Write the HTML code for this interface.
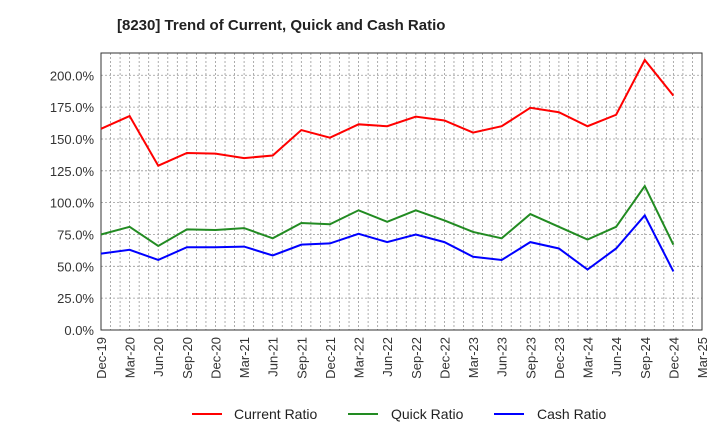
<!DOCTYPE html>
<html><head><meta charset="utf-8"><style>
body{margin:0;background:#fff;font-family:"Liberation Sans",sans-serif}
</style></head><body>
<svg id="c" width="720" height="440" xmlns="http://www.w3.org/2000/svg">
<text x="117" y="30" font-size="15" font-weight="bold" fill="#222">[8230]  Trend of Current, Quick and Cash Ratio</text>
<g id="grid"></g><g id="axes"></g><g id="series"></g>
<g>
<line x1="192" y1="414" x2="222" y2="414" stroke="#f00" stroke-width="2"/><text x="234" y="419" font-size="14" fill="#222">Current Ratio</text>
<line x1="348" y1="414" x2="378" y2="414" stroke="#228b22" stroke-width="2"/><text x="391" y="419" font-size="14" fill="#222">Quick Ratio</text>
<line x1="494" y1="414" x2="524" y2="414" stroke="#00f" stroke-width="2"/><text x="537" y="419" font-size="14" fill="#222">Cash Ratio</text>
</g>
</svg>
<script>
const xLabels=["Dec-19","Mar-20","Jun-20","Sep-20","Dec-20","Mar-21","Jun-21","Sep-21","Dec-21","Mar-22","Jun-22","Sep-22","Dec-22","Mar-23","Jun-23","Sep-23","Dec-23","Mar-24","Jun-24","Sep-24","Dec-24","Mar-25"];
const yTicks=[0,25,50,75,100,125,150,175,200];
const currentRatio=[158,168,129,139,138.5,135,137,157,151,161.5,160,167.5,164.5,155,160,174.5,171,160,169,212,184];
const quickRatio=[75,81,66,79,78.5,80,72,84,83,94,85,94,86,77,72,91,81,71,81,113,67];
const cashRatio=[60,63,55,65,65,65.5,58.5,67,68,75.5,69,75,69,57.5,55,69,64,47.5,64,90,46];
const L=101,R=702,T=53,B=330,YMAX=217.5;
const NS="http://www.w3.org/2000/svg";
const xs=i=>L+(R-L)*i/(xLabels.length-1);
const ys=v=>B-(B-T)*v/YMAX;
function mk(tag,attrs,parent){const e=document.createElementNS(NS,tag);for(const k in attrs)e.setAttribute(k,attrs[k]);parent.appendChild(e);return e;}
const g=document.getElementById('grid'),a=document.getElementById('axes'),s=document.getElementById('series');
for(let m=1;m<(xLabels.length-1)*3;m++){const x=L+(R-L)*m/((xLabels.length-1)*3);
const l=mk('line',{x1:x,x2:x,y1:T,y2:B,stroke:'#999','stroke-dasharray':'2,2','stroke-width':0.8},g);

}
yTicks.forEach(v=>{const y=ys(v);
const l=mk('line',{x1:L,x2:R,y1:y,y2:y,stroke:'#999','stroke-dasharray':'2,2','stroke-width':0.8},g);


const t=mk('text',{x:L-7,y:y+5,'font-size':13,fill:'#333','text-anchor':'end'},a);t.textContent=v.toFixed(1)+'%';

});
xLabels.forEach((lb,i)=>{const x=xs(i);
const t=mk('text',{x:0,y:0,'font-size':13,fill:'#333','text-anchor':'end',transform:`translate(${x+5},${B+7}) rotate(-90)`},a);t.textContent=lb;

});
const fr=mk('rect',{x:L,y:T,width:R-L,height:B-T,fill:'none',stroke:'#333','stroke-width':1},a);


[[currentRatio,'#f00','current-ratio-line'],[quickRatio,'#228b22','quick-ratio-line'],[cashRatio,'#00f','cash-ratio-line']].forEach(([d,c,n])=>{
const p=mk('polyline',{points:d.map((v,i)=>xs(i)+','+ys(v)).join(' '),fill:'none',stroke:c,'stroke-width':2},s);

});
</script>
</body></html>
